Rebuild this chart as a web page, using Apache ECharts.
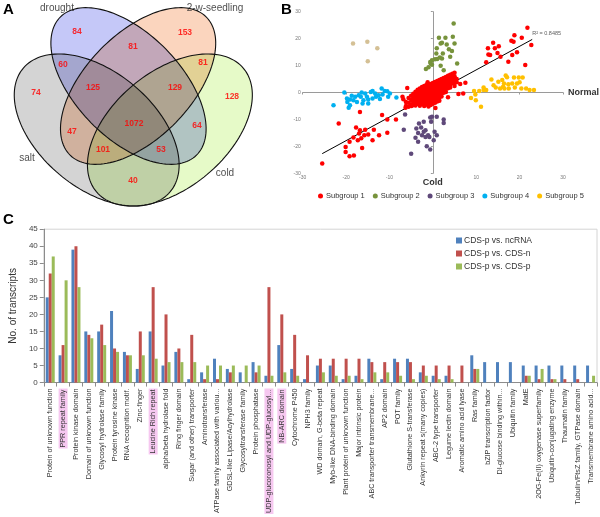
<!DOCTYPE html>
<html><head><meta charset="utf-8">
<script src="https://cdn.jsdelivr.net/npm/echarts@6/dist/echarts.min.js"></script>
<style>html,body{margin:0;padding:0;background:#fff}#c{width:600px;height:517px}</style>
</head><body><div id="c"></div>
<script>
// ---------- Panel A: Venn data ----------
const vennSetNames = ['drought', '2-w-seedling', 'salt', 'cold'];
const vennRegionNames = ['drought', '2-w-seedling', 'salt', 'cold', 'drought&2-w', 'drought&salt', '2-w&cold',
  'drought&2-w&salt', 'drought&2-w&cold', '2-w&salt', 'drought&cold', 'all', '2-w&salt&cold', 'drought&salt&cold', 'salt&cold'];
const vennCounts = [84, 153, 74, 128, 81, 60, 81, 125, 129, 47, 64, 1072, 101, 53, 40];
// layout (pixel space of panel A)
const vennLabelPos = [[77,32],[185,33],[36,93],[232,97],[133,47],[63,65],[203,63],[93,88],[175,88],[72,132],[197,126],[134,124],[103,150],[161,150],[133,181]];
const vennSetLabelPos = [[57,8],[215,8],[27,158],[225,173]];
const vennEllipses = [[128.5,86,97,52.5,45.5],[138.1,86,97,52.5,-45.5],[96.7,130,96,58,40],[169.9,130,96,58,-40]];
const vennFills = ['#C5C8F8','#FBD5BE','#D4D4D4','#E6FAC8'];

// ---------- Panel B: scatter data ----------
const sub1Outer = [[21.8,24.0],[18.8,21.3],[20.5,20.3],[18.1,19.2],[18.6,18.8],[22.7,17.6],[13.9,18.5],[15.2,17.2],[14.3,16.4],[12.7,16.4],
  [14.9,14.7],[12.8,14.1],[13.2,13.9],[19.4,14.9],[18.3,13.9],[15.6,13.3],[12.3,11.2],[17.4,11.4],[21.3,10.2],[7.5,3.6],[7.0,-0.4],[5.9,-0.6],
  [-25.5,-26.4],[-19.2,-23.7],[-18.2,-23.4],[-20.1,-22.1],[-20.1,-20.2],[-16.3,-20.6],[-19.2,-18.3],[-18.3,-16.7],[-17.3,-17.7],[-16.5,-17.0],
  [-15.8,-15.9],[-17.0,-15.2],[-16.8,-14.0],[-15.6,-13.8],[-14.9,-15.6],[-17.7,-13.0],[-13.6,-13.8],[-12.4,-15.9],[-13.9,-17.7],[-10.5,-14.9],
  [-21.7,-11.5],[-16.8,-7.2],[-11.7,-8.4],[-10.5,-10.0],[-8.5,-10.0],[-6.3,-5.7],[-5.9,1.7],[-7.0,-1.6]];
const sub1Core = [[-6.2,-3.5],[-6.2,-5.0],[-5.6,-2.0],[-5.6,-3.8],[-5.6,-5.3],[-5.0,-1.2],[-5.0,-2.8],[-5.0,-4.4],[-4.9,-5.0],
  [-4.5,-0.5],[-4.5,-2.0],[-4.5,-3.3],[-4.5,-4.6],[-4.0,0.3],[-4.0,-1.0],[-4.0,-2.4],[-4.0,-3.6],[-4.0,-4.8],
  [-3.5,1.0],[-3.5,-0.4],[-3.5,-1.8],[-3.5,-3.0],[-3.5,-4.2],[-3.0,1.5],[-3.0,0.2],[-3.0,-1.1],[-3.0,-2.5],[-3.0,-3.7],[-3.0,-4.9],
  [-2.5,2.0],[-2.5,0.6],[-2.5,-0.6],[-2.5,-1.8],[-2.5,-3.0],[-2.5,-4.3],[-2.0,2.4],[-2.0,1.1],[-2.0,-0.2],[-2.0,-1.3],[-2.0,-2.6],[-2.0,-3.9],[-2.0,-5.0],
  [-1.5,2.8],[-1.5,1.6],[-1.5,0.3],[-1.5,-0.9],[-1.5,-2.1],[-1.5,-3.3],[-1.5,-4.5],
  [-1.0,3.0],[-1.0,1.9],[-1.0,0.7],[-1.0,-0.5],[-1.0,-1.6],[-1.0,-2.8],[-1.0,-4.0],[-1.0,-5.2],
  [-0.5,3.2],[-0.5,2.2],[-0.5,1.1],[-0.5,0.0],[-0.5,-1.2],[-0.5,-2.3],[-0.5,-3.5],[-0.5,-4.6],
  [0.0,3.5],[0.0,2.5],[0.0,1.4],[0.0,0.3],[0.0,-0.8],[0.0,-1.9],[0.0,-3.0],[0.0,-4.2],
  [0.5,3.9],[0.5,2.8],[0.5,1.7],[0.5,0.6],[0.5,-0.5],[0.5,-1.5],[0.5,-2.6],[0.5,-3.8],
  [1.0,4.3],[1.0,3.2],[1.0,2.1],[1.0,1.0],[1.0,-0.1],[1.0,-1.1],[1.0,-2.2],[1.0,-3.3],
  [1.5,4.6],[1.5,3.5],[1.5,2.4],[1.5,1.3],[1.5,0.3],[1.5,-0.8],[1.5,-1.9],
  [2.0,5.0],[2.0,3.9],[2.0,2.8],[2.0,1.7],[2.0,0.6],[2.0,-0.4],[2.0,-1.5],
  [2.5,5.4],[2.5,4.3],[2.5,3.1],[2.5,2.0],[2.5,0.9],[2.5,-0.1],[3.0,5.8],[3.0,4.6],[3.0,3.5],[3.0,2.4],[3.0,1.3],[3.0,0.2],
  [3.5,6.2],[3.5,5.0],[3.5,3.8],[3.5,2.7],[3.5,1.6],[4.0,6.6],[4.0,5.3],[4.0,4.2],[4.0,3.0],[4.0,1.9],
  [4.5,7.0],[4.5,5.7],[4.5,4.5],[4.5,3.4],[5.0,7.3],[5.0,6.0],[5.0,4.8],[5.0,3.6],[5.0,2.4],[5.5,5.0],[5.5,3.8],
  [6.3,3.2],[-6.8,-2.5],[3.5,-1.8],[0.6,-5.8],[-1.2,3.8],[1.5,-3.1]];
const sub2 = [[4.8,25.6],[4.6,20.7],[2.9,20.3],[1.4,20.3],[1.8,18.2],[2.1,18.5],[3.2,17.8],[5.0,18.2],[0.9,16.4],[0.8,14.5],[2.3,14.5],
  [3.7,16.1],[4.4,15.4],[0.5,12.3],[1.0,12.4],[1.6,13.0],[2.1,12.6],[-0.2,12.0],[-0.5,10.8],[-0.2,10.3],[-1.6,8.7],[-1.0,9.4],[1.8,9.9],
  [2.5,8.3],[5.6,10.8],[4.0,13.3],[-0.6,11.3]];
const sub3 = [[-6.4,-8.2],[-6.7,-13.8],[-5.0,-22.7],[-3.2,-11.5],[-3.8,-13.4],[-3.4,-15.0],[-4.0,-16.8],[-3.4,-18.3],[-2.5,-15.9],[-2.1,-14.6],
  [-1.7,-16.5],[-1.1,-15.9],[-0.8,-16.5],[-1.4,-20.0],[-0.6,-21.2],[-1.7,-14.0],[-0.6,-9.3],[-0.2,-9.0],[-0.4,-10.9],[0.4,-14.6],[0.2,-17.7],
  [0.9,-15.9],[0.9,-9.0],[2.5,-10.0],[2.5,-11.3],[-2.1,-10.9],[-2.7,-13.0]];
const sub4 = [[-20.4,0],[-16.4,0],[-22.9,-4.7],[-19.4,-5.7],[-19.7,-3.5],[-19.1,-2.6],[-18.3,-2.9],[-17.9,-1.6],[-17.1,-1.0],[-16.6,-1.6],
  [-16.0,-2.9],[-16.2,-4.1],[-15.2,-1.6],[-14.9,-2.6],[-14.3,0.2],[-13.9,0.6],[-13.3,-0.4],[-13.9,-2.2],[-13.1,-1.6],[-12.5,-1.0],[-11.8,1.5],
  [-11.1,0.6],[-10.5,0.5],[-9.9,-0.4],[-8.4,-1.9],[-12.2,-2.4],[-14.9,-4.1],[-19.1,-4.7],[-17.5,-3.5],[-18.7,-1.2],[-19.8,-2.2],[-15.6,-0.4],
  [-11.6,-0.7],[-10.3,-1.6]];
const sub5 = [[13.5,4.8],[15.1,4.0],[16.0,4.6],[16.8,6.3],[17.1,5.7],[18.7,5.6],[19.8,5.6],[20.7,5.6],[20.0,3.8],[18.3,3.3],[17.4,3.1],
  [16.2,2.1],[15.5,1.5],[16.5,1.5],[17.5,1.5],[18.9,1.9],[20.4,1.5],[21.5,1.5],[22.3,0.9],[23.3,0.9],[14.0,2.7],[14.5,1.9],[11.7,1.9],
  [12.3,0.9],[11.7,0.9],[10.7,0.6],[9.5,0.6],[9.8,-0.7],[8.8,-2.0],[9.9,-2.9],[11.1,-5.3],[16.4,3.3],[19.4,3.3]];
const extraPts = [[-18.4,18.2],[-15.1,18.8],[-12.8,16.4],[-15.0,11.6]];
const trendPts = [[-25.5,-22.7],[22.9,19.7]];
const rSquaredText = 'R² = 0.8485';
const subgroupNames = ['Subgroup 1','Subgroup 2','Subgroup 3','Subgroup 4','Subgroup 5'];

// ---------- Panel C: bar data ----------
const categories = ['Protein of unknown function','PPR repeat family','Protein kinase domain','Domain of unknown function',
  'Glycosyl hydrolase family','Protein tyrosine kinase','RNA recognition motif.','Zinc-finger','Leucine Rich repeat',
  'alpha/beta hydrolase fold','Ring finger domain','Sugar (and other) transporter','Aminotransferase',
  'ATPase family associated with variou...','GDSL-like Lipase/Acylhydrolase','Glycosyltransferase family','Protein phosphatase',
  'UDP-glucoronosyl and UDP-glucosyl...','NB-ARC domain','Cytochrome P450','NPH3 family','WD domain, G-beta repeat',
  'Myb-like DNA-binding domain','Plant protein of unknown function','Major intrinsic protein','ABC transporter transmembrane...',
  'AP2 domain','POT family','Glutathione S-transferase','Ankyrin repeat s(many copies)','ABC-2 type transporter',
  'Legume lectin domain','Aromatic amino acid lyase','Ras family','bZIP transcription factor','DI-glucose binding within...',
  'Ubiquitin family','MatE','2OG-Fe(II) oxygenase superfamily','Ubiquitin-conjugating enzyme','Thaumatin family',
  'Tubulin/FtsZ family, GTPase domain','Transmembrane amino acid...'];
const highlighted = ['PPR repeat family','Leucine Rich repeat','UDP-glucoronosyl and UDP-glucosyl...','NB-ARC domain'];
const vsNcRNA = [25,8,39,15,15,21,9,4,15,5,9,1,3,7,4,3,6,2,11,4,1,5,5,1,2,7,1,7,7,3,2,2,0,8,6,6,6,5,5,5,5,5,5];
const vsCDSn  = [32,11,40,14,17,10,8,15,28,20,10,14,1,1,3,0,3,28,20,14,8,7,7,7,7,6,6,6,6,5,5,5,5,4,0,0,0,2,1,1,1,1,0];
const vsCDSp  = [37,30,28,13,11,9,8,8,7,6,6,6,5,5,5,5,5,2,3,2,0,3,2,2,1,3,3,2,1,2,1,1,0,4,0,0,0,2,4,1,0,0,2];
const barNames = ['CDS-p vs. ncRNA','CDS-p vs. CDS-n','CDS-p vs. CDS-p'];
const barColors = ['#4F81BD','#C0504D','#9BBB59'];
const yTicksC = {min:0, max:45, interval:5};

// ---------- build ----------
const FONT = 'Liberation Sans, Arial, sans-serif';
const chart = echarts.init(document.getElementById('c'));

function ellipsePoints(api) {
  const cx = api.value(0), cy = api.value(1), a = api.value(2), b = api.value(3), ang = api.value(4) * Math.PI / 180;
  const pts = [];
  const N = 144;
  for (let k = 0; k < N; k++) {
    const t = k / N * 2 * Math.PI;
    const ex = a * Math.cos(t), ey = b * Math.sin(t);
    pts.push(api.coord([cx + ex * Math.cos(ang) - ey * Math.sin(ang), cy + ex * Math.sin(ang) + ey * Math.cos(ang)]));
  }
  return pts;
}

const catData = categories.map(c => highlighted.includes(c)
  ? {value: c, textStyle: {backgroundColor: '#F6C8F0', padding: [1, 1]}} : c);

const subColors = ['#FF0000','#77933C','#5F497A','#00B0F0','#FFC000'];
const subData = [sub1Outer.concat(sub1Core), sub2, sub3, sub4, sub5];

const option = {
  animation: false,
  backgroundColor: '#ffffff',
  textStyle: {fontFamily: FONT},
  grid: [
    {left: 0, top: 0, width: 300, height: 250, show: false},
    {left: 302.7, top: 11.7, width: 262.3, height: 161.6},
    {left: 40.5, top: 229.2, width: 556.5, height: 157.5, show: true, borderColor: '#D4D4D4', borderWidth: 1}
  ],
  xAxis: [
    {gridIndex: 0, type: 'value', min: 0, max: 300, show: false},
    {gridIndex: 1, type: 'value', min: -30, max: 30, interval: 10,
      axisLine: {onZero: true, lineStyle: {color: '#9A9A9A', width: 1}},
      axisTick: {show: true, length: 2, lineStyle: {color: '#9A9A9A'}},
      axisLabel: {fontSize: 5, color: '#777', margin: 2, formatter: v => v === 0 ? '' : String(v)},
      splitLine: {show: false},
      name: 'Normal', nameLocation: 'end', nameGap: 5,
      nameTextStyle: {fontSize: 9, color: '#333', fontWeight: 'bold'}},
    {gridIndex: 2, type: 'category', data: catData,
      axisLine: {lineStyle: {color: '#8C8C8C'}},
      axisTick: {show: true, length: 4, lineStyle: {color: '#8C8C8C'}},
      axisLabel: {rotate: 90, interval: 0, fontSize: 7.2, color: '#333', margin: 6}}
  ],
  yAxis: [
    {gridIndex: 0, type: 'value', min: 0, max: 250, inverse: true, show: false},
    {gridIndex: 1, type: 'value', min: -30, max: 30, interval: 10,
      axisLine: {onZero: true, lineStyle: {color: '#9A9A9A', width: 1}},
      axisTick: {show: true, length: 2, lineStyle: {color: '#9A9A9A'}},
      axisLabel: {fontSize: 5, color: '#777', margin: 2},
      splitLine: {show: false},
      name: 'Cold', nameLocation: 'start', nameGap: 5,
      nameTextStyle: {fontSize: 9, color: '#333', fontWeight: 'bold'}},
    {gridIndex: 2, type: 'value', min: yTicksC.min, max: yTicksC.max, interval: yTicksC.interval,
      axisLine: {show: true, lineStyle: {color: '#8C8C8C'}},
      axisTick: {show: true, length: 4, lineStyle: {color: '#8C8C8C'}},
      axisLabel: {fontSize: 8, color: '#444', margin: 6},
      splitLine: {show: false},
      name: 'No. of transcripts', nameLocation: 'middle', nameGap: 19,
      nameTextStyle: {fontSize: 10, color: '#333'}}
  ],
  legend: [
    {data: subgroupNames, left: 318, top: 192, itemWidth: 5, itemHeight: 5, itemGap: 8, icon: 'circle',
      padding: 0, textStyle: {fontSize: 7.5, color: '#333', padding: [0, 0, 0, -2]}},
    {data: barNames, orient: 'vertical', left: 456, top: 236, itemWidth: 6, itemHeight: 6, itemGap: 4, icon: 'rect',
      padding: 0, textStyle: {fontSize: 8.5, color: '#333', padding: [0, 0, 0, -3]}}
  ],
  graphic: [
    {type: 'text', left: 3, top: 2, style: {text: 'A', font: 'bold 15px ' + FONT, fill: '#000'}},
    {type: 'text', left: 281, top: 2, style: {text: 'B', font: 'bold 15px ' + FONT, fill: '#000'}},
    {type: 'text', left: 3, top: 212, style: {text: 'C', font: 'bold 15px ' + FONT, fill: '#000'}}
  ],
  series: [
    // Venn fills (multiplied, like overlapping transparent films)
    {type: 'custom', xAxisIndex: 0, yAxisIndex: 0, silent: true, z: 1, blendMode: 'multiply',
      data: vennEllipses.map((e, i) => e.concat([i])),
      encode: {x: 0, y: 1},
      renderItem: (params, api) => ({type: 'polygon', shape: {points: ellipsePoints(api)},
        style: {fill: vennFills[api.value(5)], stroke: null}})},
    // Venn outlines
    {type: 'custom', xAxisIndex: 0, yAxisIndex: 0, silent: true, z: 2,
      data: vennEllipses.map((e, i) => e.concat([i])),
      encode: {x: 0, y: 1},
      renderItem: (params, api) => ({type: 'polygon', shape: {points: ellipsePoints(api)},
        style: {fill: 'none', stroke: '#111', lineWidth: 1.1}})},
    // Venn counts
    {type: 'scatter', xAxisIndex: 0, yAxisIndex: 0, silent: true, z: 3, symbolSize: 0,
      data: vennLabelPos.map((p, i) => ({name: vennRegionNames[i], value: [p[0], p[1], vennCounts[i]]})),
      label: {show: true, position: 'inside', formatter: p => String(p.value[2]),
        color: '#FF0000', fontWeight: 'bold', fontSize: 8.5}},
    // Venn set names
    {type: 'scatter', xAxisIndex: 0, yAxisIndex: 0, silent: true, z: 3, symbolSize: 0,
      data: vennSetLabelPos.map((p, i) => ({name: vennSetNames[i], value: [p[0], p[1]]})),
      label: {show: true, position: 'inside', formatter: p => p.name, color: '#222', fontSize: 10}},
    // trendline
    {type: 'line', name: 'trend', xAxisIndex: 1, yAxisIndex: 1, data: trendPts, symbol: 'none', silent: true, z: 1,
      lineStyle: {color: '#000', width: 1}},
    {type: 'scatter', name: 'trendLabel', xAxisIndex: 1, yAxisIndex: 1, silent: true, z: 4, symbolSize: 0,
      data: [trendPts[1]],
      label: {show: true, position: [0, -9], formatter: rSquaredText, fontSize: 5.5, color: '#333'}},
    // extra tan points
    {type: 'scatter', name: 'other', xAxisIndex: 1, yAxisIndex: 1, data: extraPts, symbolSize: 4.5, z: 2,
      itemStyle: {color: '#C9B07A'}},
    ...subgroupNames.map((n, i) => ({type: 'scatter', name: n, xAxisIndex: 1, yAxisIndex: 1, data: subData[i],
      symbolSize: 4.5, z: 2, itemStyle: {color: subColors[i], opacity: 1}})),
    // bars
    ...[vsNcRNA, vsCDSn, vsCDSp].map((d, i) => ({type: 'bar', name: barNames[i], xAxisIndex: 2, yAxisIndex: 2,
      data: d, barWidth: 3, barGap: '0%', itemStyle: {color: barColors[i]}}))
  ]
};
chart.setOption(option);
</script></body></html>
